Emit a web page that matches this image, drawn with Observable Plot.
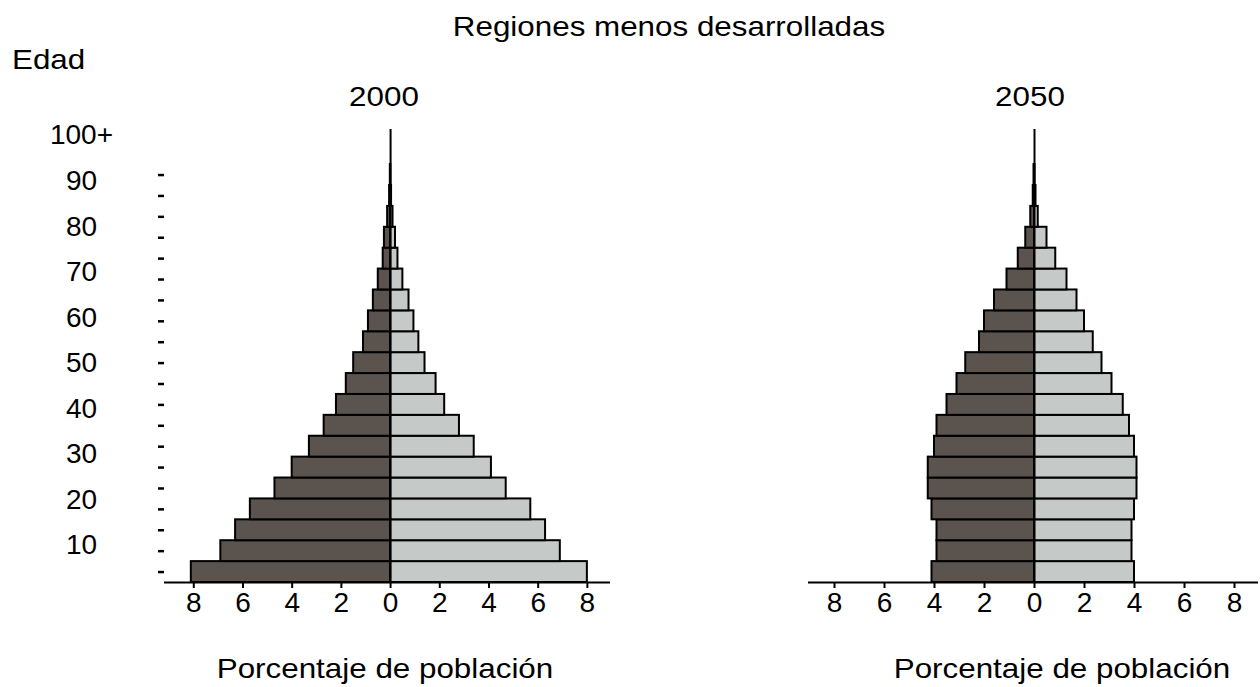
<!DOCTYPE html>
<html><head><meta charset="utf-8">
<script src="https://cdn.jsdelivr.net/npm/d3@7"></script>
<script src="https://cdn.jsdelivr.net/npm/@observablehq/plot@0.6"></script>
<style>
body{margin:0;background:#fff;}
#root{position:relative;width:1260px;height:687px;overflow:hidden;font-family:"Liberation Sans",Arial,sans-serif;color:#000;background:#fff;}
.t{position:absolute;font-size:28px;line-height:1;white-space:nowrap;}
.p{position:absolute;top:0;}
</style></head><body><div id="root"></div>
<script>
// Age groups (start age of each 5-year group; last is 100+)
const ageGroups = ["0-4","5-9","10-14","15-19","20-24","25-29","30-34","35-39","40-44","45-49","50-54","55-59","60-64","65-69","70-74","75-79","80-84","85-89","90-94","95-99","100+"];
const ageStart = [0,5,10,15,20,25,30,35,40,45,50,55,60,65,70,75,80,85,90,95,100];
// Percent of population (left = hombres, right = mujeres)
const male2000   = [8.1,6.9,6.3,5.7,4.7,4.0,3.3,2.7,2.2,1.8,1.5,1.1,0.9,0.7,0.5,0.3,0.25,0.12,0.04,0.01,0];
const female2000 = [8.0,6.9,6.3,5.7,4.7,4.1,3.4,2.8,2.2,1.85,1.4,1.15,0.95,0.75,0.5,0.3,0.2,0.1,0.04,0.01,0];
const male2050   = [4.1,3.9,3.9,4.1,4.25,4.25,4.0,3.9,3.5,3.1,2.75,2.2,2.0,1.6,1.1,0.65,0.35,0.15,0.05,0.02,0];
const female2050 = [4.0,3.9,3.9,4.0,4.1,4.1,4.0,3.8,3.55,3.1,2.7,2.35,2.0,1.7,1.3,0.85,0.5,0.15,0.06,0.02,0];
const xTicks = [-8,-6,-4,-2,0,2,4,6,8];
const ageLabels = [10,20,30,40,50,60,70,80,90,100];
const titleText = "Regiones menos desarrolladas";
const yLabelText = "Edad";
const panelTitles = ["2000","2050"];
const xLabelText = "Porcentaje de población";

const root = document.getElementById("root");
const DARK = "#5a534e", LIGHT = "#c5c9c7";

function addText(txt, cx, cy, anchor) {
  const d = document.createElement("div");
  d.className = "t";
  d.textContent = txt;
  d.style.left = cx + "px";
  d.style.top = cy + "px";
  const tx = anchor === "start" ? "0" : "-50%";
  d.style.transformOrigin = anchor === "start" ? "left center" : "center center";
  d.style.transform = `translate(${tx},-50%) scaleX(1.12)`;
  root.appendChild(d);
}

function rows(m, f) {
  return ageStart.map((a, i) => ({group: ageGroups[i], a, m: m[i], f: f[i]}));
}

const style = {fontFamily: "'Liberation Sans', Arial, sans-serif", fontSize: "28px", color: "#000", background: "transparent", overflow: "visible"};
const centers = ageStart.slice(0, 20).map(a => a + 2.5);

function pyramid(data, opts) {
  const marks = [
    Plot.rectX(data, {x1: d => -d.m, x2: 0, y1: "a", y2: d => d.a + 5, fill: DARK, stroke: "#000", strokeWidth: 2}),
    Plot.rectX(data, {x1: 0, x2: "f", y1: "a", y2: d => d.a + 5, fill: LIGHT, stroke: "#000", strokeWidth: 2}),
    Plot.ruleX([0], {stroke: "#000", strokeWidth: 2}),
    Plot.ruleY([0], {stroke: "#000", strokeWidth: 2}),
    Plot.axisX({ticks: xTicks, tickFormat: d => Math.abs(d), tickSize: 6, tickPadding: 4, strokeWidth: 2, fontSize: 28, label: null})
  ];
  if (opts.yTicks) marks.push(Plot.axisY({ticks: centers, tickSize: 6, tickFormat: () => "", strokeWidth: 2.5, label: null}));
  const p = Plot.plot({
    width: opts.width, height: 640,
    marginLeft: opts.ml, marginRight: opts.mr, marginTop: 129, marginBottom: 58,
    style,
    x: {domain: opts.xd},
    y: {domain: [0, 108.4], axis: opts.yTicks ? undefined : null},
    marks
  });
  p.classList.add("p");
  p.style.left = opts.left + "px";
  root.appendChild(p);
}

pyramid(rows(male2000, female2000), {left: 0, width: 640, ml: 164, mr: 30, xd: [-9.19, 8.94], yTicks: true});
pyramid(rows(male2050, female2050), {left: 640, width: 620, ml: 168, mr: 2, xd: [-9.04, 8.96], yTicks: false});

// age labels column
const ap = Plot.plot({
  width: 164, height: 640, marginLeft: 81, marginRight: 0, marginTop: 135, marginBottom: 95,
  style,
  x: {axis: null},
  y: {domain: [10, 100], axis: null},
  marks: [Plot.text(ageLabels, {y: d => d, text: d => d === 100 ? "100+" : String(d), frameAnchor: "left", textAnchor: "middle", fontSize: 28, fill: "#000"})]
});
ap.classList.add("p");
ap.style.left = "0px";
root.appendChild(ap);

addText(titleText, 669, 27);
addText(yLabelText, 12, 60, "start");
addText(panelTitles[0], 384, 97);
addText(panelTitles[1], 1030, 97);
addText(xLabelText, 385, 669);
addText(xLabelText, 1062, 669);
</script></body></html>
